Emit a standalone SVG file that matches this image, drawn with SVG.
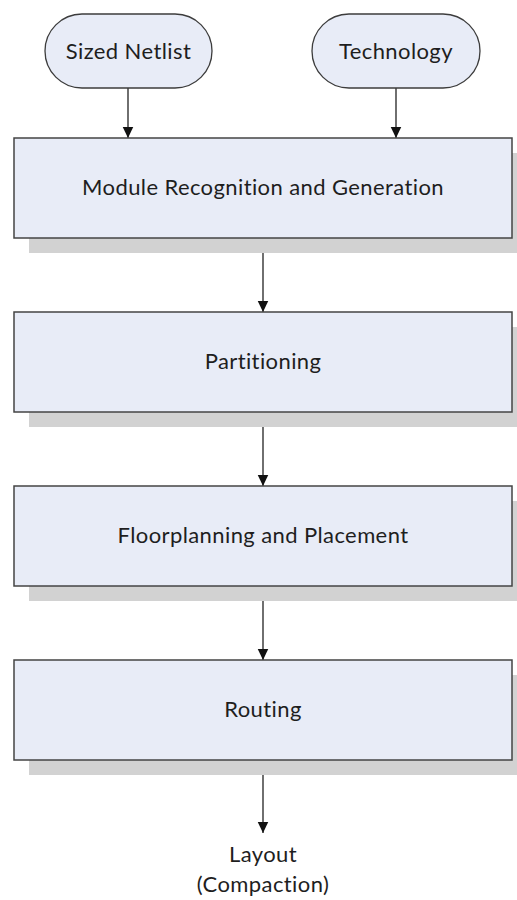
<svg xmlns="http://www.w3.org/2000/svg" width="517" height="900" viewBox="0 0 517 900">
  <style>
    .pill { fill: #e8ecf7; stroke: #3c3c3c; stroke-width: 1.3; }
    .box { fill: #e8ecf7; stroke: #444; stroke-width: 1.5; }
    .shadow { fill: #d2d2d2; }
    .label { font-family: Lato, "Liberation Sans", sans-serif; font-size: 22px; letter-spacing: 0.4px; fill: #1e1e1e; text-anchor: middle; }
    .edge { stroke: #222; stroke-width: 1.3; fill: none; marker-end: url(#arrow); }
  </style>
  <defs>
    <marker id="arrow" markerWidth="12" markerHeight="12" refX="11.5" refY="6" orient="auto" markerUnits="userSpaceOnUse">
      <path d="M0,0.5 L11.5,6 L0,11.5 Z" fill="#111"/>
    </marker>
  </defs>
  <rect width="517" height="900" fill="#ffffff"/>

  <g id="connectors">
    <line class="edge" x1="128" y1="88" x2="128" y2="138"/>
    <line class="edge" x1="396" y1="88" x2="396" y2="138"/>
    <line class="edge" x1="263" y1="238" x2="263" y2="312"/>
    <line class="edge" x1="263" y1="412" x2="263" y2="486"/>
    <line class="edge" x1="263" y1="586" x2="263" y2="660"/>
    <line class="edge" x1="263" y1="760" x2="263" y2="833"/>
  </g>

  <g id="sized-netlist">
    <rect class="pill" x="45" y="14" width="167" height="74" rx="37" ry="37"/>
    <text class="label" x="128.5" y="59">Sized Netlist</text>
  </g>
  <g id="technology">
    <rect class="pill" x="312" y="14" width="168" height="74" rx="37" ry="37"/>
    <text class="label" x="396" y="59">Technology</text>
  </g>

  <g id="module-recognition">
    <rect class="shadow" x="29" y="153" width="498" height="100"/>
    <rect class="box" x="14" y="138" width="498" height="100"/>
    <text class="label" x="263" y="195">Module Recognition and Generation</text>
  </g>
  <g id="partitioning">
    <rect class="shadow" x="29" y="327" width="498" height="100"/>
    <rect class="box" x="14" y="312" width="498" height="100"/>
    <text class="label" x="263" y="369">Partitioning</text>
  </g>
  <g id="floorplanning">
    <rect class="shadow" x="29" y="501" width="498" height="100"/>
    <rect class="box" x="14" y="486" width="498" height="100"/>
    <text class="label" x="263" y="543">Floorplanning and Placement</text>
  </g>
  <g id="routing">
    <rect class="shadow" x="29" y="675" width="498" height="100"/>
    <rect class="box" x="14" y="660" width="498" height="100"/>
    <text class="label" x="263" y="717">Routing</text>
  </g>

  <g id="layout">
    <text class="label" x="263" y="862">Layout</text>
    <text class="label" x="263" y="892">(Compaction)</text>
  </g>
</svg>
